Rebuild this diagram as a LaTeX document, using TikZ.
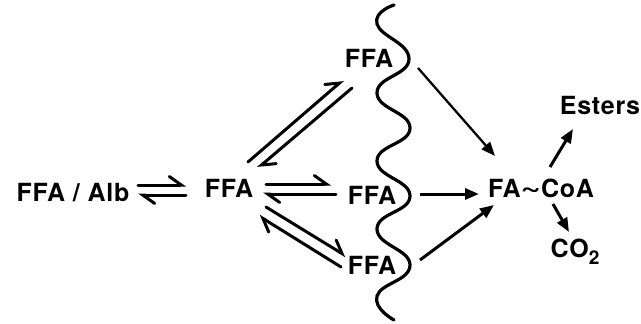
\documentclass[tikz,border=0pt]{standalone}
\usepackage{fontspec}
\setmainfont{TeX Gyre Heros}[LetterSpace=3]
\usetikzlibrary{arrows.meta}
\begin{document}
\begin{tikzpicture}[x=1pt,y=-1pt,
  lbl/.style={font=\fontsize{25}{25}\selectfont\bfseries, inner sep=0pt, anchor=base},
  harp/.style={line width=3pt, line cap=round, -{Straight Barb[left,length=12pt,width=17pt,line cap=round]}},
  fw/.style={line width=3pt, -{Triangle[length=14pt,width=11pt]}},
  membrane/.style={line width=3.2pt, line cap=round}
]
\useasboundingbox (0,0) rectangle (641,324);
% labels
\node[lbl] (alb) at (73,201) {FFA / Alb};
\node[lbl] (ffa) at (229,197) {FFA};
\node[lbl] (top) at (369,67) {FFA};
\node[lbl] (mid) at (372,204) {FFA};
\node[lbl] (bot) at (372,274) {FFA};
\node[lbl] (coa) at (541,197) {FA\raisebox{1pt}{\scalebox{1.4}[1.1]{\char"7E}}CoA};
\node[lbl] (est) at (600,114) {Esters};
\node[lbl] (co2) at (575,257) {CO\raisebox{-7pt}{\fontsize{19}{19}\selectfont 2}};
% membrane
\draw[membrane] plot[smooth, tension=0.85] coordinates {(394,5) (377,24) (409,59) (377,93) (410,128) (377,161) (410,196) (377,229) (410,265) (377,296) (394,320)};
% equilibrium FFA/Alb <-> FFA
\coordinate (a1) at (138,185); \coordinate (a2) at (186,185);
\coordinate (a3) at (186,195); \coordinate (a4) at (138,195);
\draw[harp] (a1) -- (a2);
\draw[harp] (a3) -- (a4);
% FFA <-> mid FFA
\coordinate (b1) at (266,184); \coordinate (b2) at (331,184);
\coordinate (b3) at (336,194); \coordinate (b4) at (263,194);
\draw[harp] (b1) -- (b2);
\draw[harp] (b3) -- (b4);
% FFA <-> top FFA
\coordinate (c1) at (248,162); \coordinate (c2) at (343,80);
\coordinate (c3) at (352,88); \coordinate (c4) at (258,168);
\draw[harp] (c1) -- (c2);
\draw[harp] (c3) -- (c4);
% FFA <-> bottom FFA
\coordinate (d1) at (266,207); \coordinate (d2) at (346,256);
\coordinate (d3) at (341,267); \coordinate (d4) at (259,216);
\draw[harp] (d1) -- (d2);
\draw[harp] (d3) -- (d4);
% to FA~CoA
\coordinate (e1) at (418,68); \coordinate (e2) at (495,156);
\draw[fw, line width=2.3pt] (e1) -- (e2);
\coordinate (f1) at (420,194); \coordinate (f2) at (479,194);
\draw[fw] (f1) -- (f2);
\coordinate (g1) at (420,260); \coordinate (g2) at (494,205);
\draw[fw] (g1) -- (g2);
% from FA~CoA
\coordinate (h1) at (550,167); \coordinate (h2) at (573,129);
\draw[fw] (h1) -- (h2);
\coordinate (i1) at (553,204); \coordinate (i2) at (569,232);
\draw[fw] (i1) -- (i2);
\end{tikzpicture}
\end{document}
